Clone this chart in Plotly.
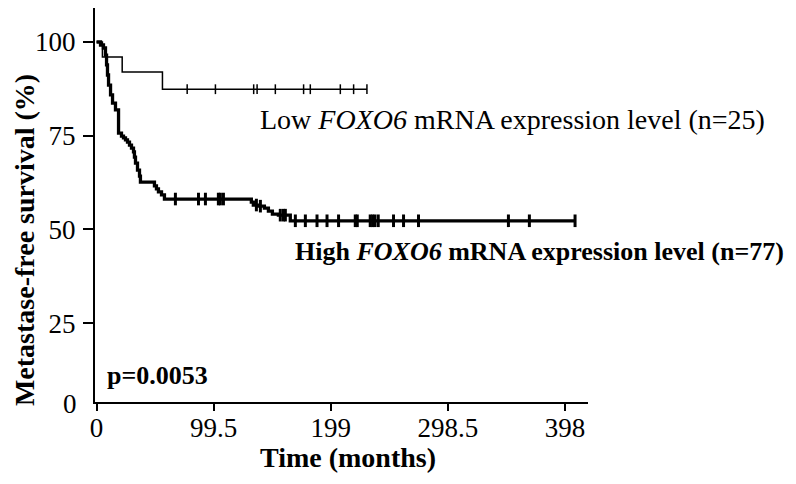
import numpy as np
import plotly.graph_objects as go

# tiempos (meses) y supervivencia (%)
high_t = [0, 3.4, 5.9, 7.6, 8.5, 9.3, 10.2, 11.9, 13.6, 16.1, 18.7, 21.2, 22.9, 24.6, 26.3, 28.0,
          29.7, 31.4, 32.2, 33.1, 34.8, 36.5, 37.3, 49.2, 50.9, 52.6, 55.2, 57.7, 131.5, 133.2,
          137.5, 142.6, 146.0, 149.4, 154.5, 164.6]
high_s = [100, 99.2, 98.4, 96.5, 93.9, 91.2, 88.5, 85.9, 83.7, 81.9, 75.7, 74.9, 74.4, 73.9, 73.3, 72.5,
          71.7, 70.7, 69.3, 67.7, 65.8, 64.2, 62.6, 61.6, 60.8, 60.0, 59.2, 58.1, 57.3, 56.5,
          56.2, 55.7, 54.9, 54.1, 53.8, 52.3]
high_cens = [67.0, 86.6, 92.5, 103.5, 105.2, 107.8, 135.8, 139.2, 156.1, 158.7, 160.4, 168.9, 177.4,
             187.3, 195.8, 205.6, 219.8, 221.5, 232.5, 234.5, 236.5, 239.3, 252.3, 260.8, 273.5,
             349.9, 367.7, 406.5]

low_t = [0, 5, 21.8, 56]
low_s = [100, 96, 92, 87.4]
low_cens = [77.0, 101.0, 133.5, 136.4, 151.9, 175.9, 181.6, 207.1, 218.4, 229.7]

x_ticks = [0, 99.5, 199, 298.5, 398]
x_labels = ["0", "99.5", "199", "298.5", "398"]
y_ticks = [25, 50, 75, 100]

FONT = "Liberation Serif"


def step_at(times, surv, pts):
    idx = np.searchsorted(np.array(times), np.array(pts), side="right") - 1
    return list(np.array(surv)[idx])


def curve(times, surv, cens, width, msize, mwidth):
    xs = list(times) + [cens[-1]]
    ys = list(surv) + [surv[-1]]
    line = go.Scatter(x=xs, y=ys, mode="lines", line=dict(color="black", width=width, shape="hv"),
                      hoverinfo="skip")
    marks = go.Scatter(x=cens, y=step_at(times, surv, cens), mode="markers", cliponaxis=False,
                       marker=dict(symbol="line-ns", size=msize, line=dict(color="black", width=mwidth)))
    return [line, marks]


fig = go.Figure()
for tr in curve(low_t, low_s, low_cens, 1.5, 7, 1.5):
    fig.add_trace(tr)
for tr in curve(high_t, high_s, high_cens, 3.3, 9, 3):
    fig.add_trace(tr)

# la pagina deja 8px de margen, por eso 788x476
fig.update_layout(
    width=788, height=476,
    margin=dict(l=87, r=208, t=0, b=82),
    plot_bgcolor="white", paper_bgcolor="white",
    showlegend=False,
    font=dict(family=FONT, color="black"),
)
fig.update_xaxes(range=[-1.3, 417.5], tickvals=x_ticks, ticktext=x_labels, ticks="outside",
                 ticklen=7, tickwidth=2, tickcolor="black", showline=True, linewidth=2,
                 linecolor="black", showgrid=False, zeroline=False, tickfont=dict(size=27),
                 automargin=False, ticklabelstandoff=-6)
fig.update_yaxes(range=[3.95, 109.07], tickvals=y_ticks, ticks="outside", ticklen=10, tickwidth=2,
                 tickcolor="black", showline=True, linewidth=2, linecolor="black", showgrid=False,
                 zeroline=False, tickfont=dict(size=27), ticklabelstandoff=2, automargin=False)

# etiquetas de texto
fig.add_annotation(x=0, xref="paper", y=3.95, yref="y", text="0", showarrow=False,
                   xanchor="right", yanchor="middle", xshift=-16, yshift=-2, font=dict(size=27))
fig.add_annotation(x=137.5, y=79.4, text="Low <i>FOXO6</i> mRNA expression level (n=25)",
                   showarrow=False, xanchor="left", yanchor="middle", font=dict(size=28))
fig.add_annotation(x=167.2, y=44.0, text="<b>High <i>FOXO6</i> mRNA expression level (n=77)</b>",
                   showarrow=False, xanchor="left", yanchor="middle", font=dict(size=26))
fig.add_annotation(x=6.8, y=10.9, text="<b>p=0.0053</b>", showarrow=False,
                   xanchor="left", yanchor="middle", font=dict(size=26))
fig.add_annotation(x=213.5, y=-0.1396, yref="paper", text="<b>Time (months)</b>", showarrow=False,
                   xanchor="center", yanchor="middle", font=dict(size=28))
fig.add_annotation(x=-0.144, xref="paper", y=0.411, yref="paper", text="<b>Metastase-free survival (%)</b>",
                   showarrow=False, textangle=-90, xanchor="center", yanchor="middle", font=dict(size=28))

fig.write_html("out.html")
